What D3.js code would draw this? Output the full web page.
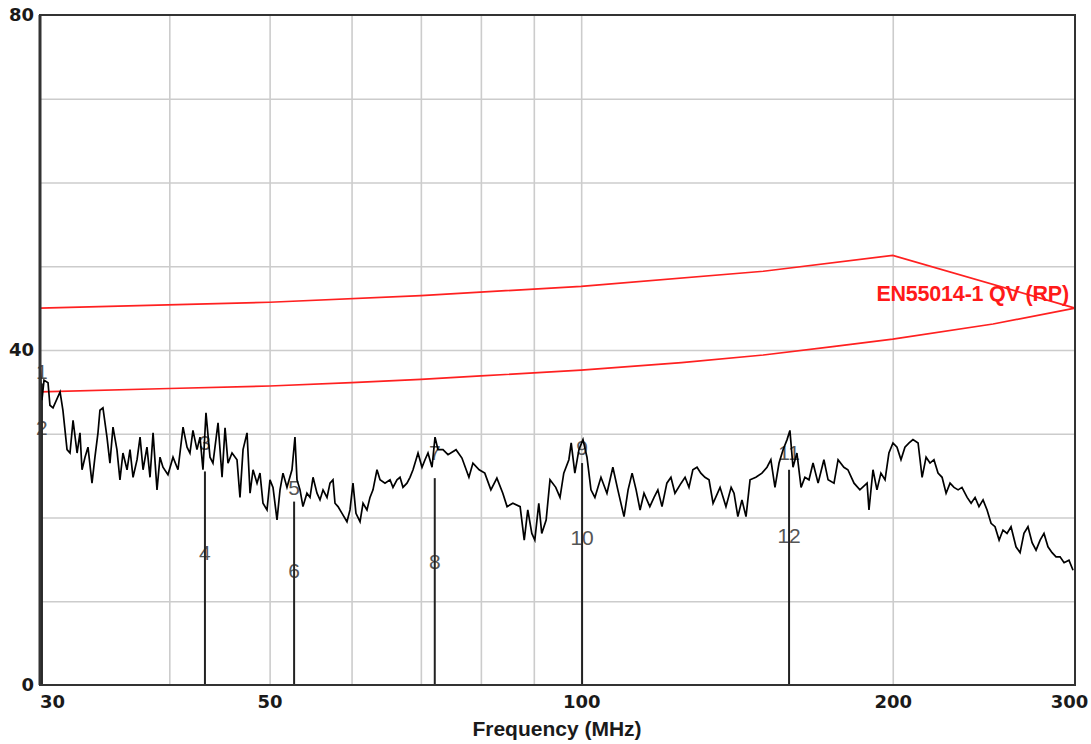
<!DOCTYPE html>
<html>
<head>
<meta charset="utf-8">
<script src="https://d3js.org/d3.v7.min.js"></script>
<style>
    body { margin: 0; background: #ffffff; }
    text { font-family: "Liberation Sans", Arial, sans-serif; }
    .grid line { stroke: #cccccc; stroke-width: 1.6px; }
    .grid path { stroke-width: 0; }
    .axis path, .axis line { stroke: none; }
    .axis text { font-family: "DejaVu Sans", Verdana, sans-serif; font-size: 18px; font-weight: bold; fill: #1a1a1a; }
    text.marker-label { font-size: 21px; fill: #555555; }
    text.axis-title { font-size: 21px; font-weight: bold; fill: #1a1a1a; }
    text.limit-label { font-size: 21.5px; font-weight: bold; fill: #ff1a1a; letter-spacing: -0.2px; }
</style>
</head>
<body>
<div id="container"></div>
<script>
    const traceFreq = [
        30.00, 30.13, 30.27, 30.54, 30.67, 30.88, 31.37, 31.57, 31.86, 32.07,
        32.29, 32.58, 32.79, 32.94, 33.16, 33.38, 33.68, 33.90, 34.13, 34.28,
        34.51, 34.82, 35.05, 35.29, 35.60, 35.84, 36.08, 36.41, 36.65, 36.90,
        37.23, 37.48, 37.73, 38.06, 38.32, 38.58, 38.92, 39.18, 39.44, 39.88,
        40.33, 40.78, 41.24, 41.61, 41.88, 42.16, 42.54, 42.83, 43.11, 43.40,
        43.79, 44.08, 44.58, 44.98, 45.28, 45.58, 45.99, 46.50, 46.81, 47.13,
        47.55, 47.87, 48.19, 48.62, 48.94, 49.27, 49.71, 50.04, 50.38, 50.83,
        51.17, 51.51, 51.97, 52.55, 52.90, 53.14, 53.50, 53.85, 54.33, 54.70,
        55.07, 55.56, 55.93, 56.31, 56.81, 57.19, 57.57, 57.83, 58.22, 58.74,
        59.39, 59.79, 60.19, 60.59, 61.14, 61.55, 62.09, 62.51, 62.93, 63.49,
        63.92, 64.63, 65.36, 65.79, 66.38, 66.83, 67.27, 67.87, 68.33, 68.79,
        69.56, 70.18, 70.65, 71.12, 71.76, 72.24, 72.72, 73.53, 74.36, 75.7,
        76.7, 77.9, 78.6, 79.7, 80.7, 81.8, 82.9, 84.0, 84.8, 85.9,
        87.3, 88.1, 88.8, 89.6, 90.2, 91.0, 91.6, 92.5, 93.3, 94.5,
        95.4, 96.2, 97.3, 97.8, 98.6, 99.5, 100.4, 101.3, 102.2, 103.1,
        104.5, 105.9, 107.3, 108.5, 110.0, 111.0, 112.0, 113.0, 114.0, 115.0,
        116.5, 117.6, 118.6, 119.7, 121.0, 122.1, 123.2, 124.9, 126.0, 127.1,
        128.2, 129.4, 130.5, 131.7, 132.9, 134.1, 136.2, 138.0, 139.6, 140.5,
        141.7, 143.0, 144.3, 145.6, 147.5, 149.5, 151.2, 152.5, 153.9, 155.3,
        156.7, 158.1, 159.1, 160.2, 161.6, 163.1, 164.5, 166.0, 167.5, 169.4,
        171.6, 173.2, 175.5, 177.1, 179.4, 181.0, 183.5, 185.9, 188.9, 189.7,
        191.4, 193.1, 194.8, 196.6, 198.3, 200.1, 201.9, 203.7, 205.5, 207.4,
        209.2, 211.6, 213.5, 215.4, 217.3, 219.2, 221.2, 223.2, 225.2, 227.2,
        229.2, 231.3, 233.3, 236.0, 238.1, 240.2, 242.3, 244.5, 246.7, 248.9,
        251.1, 253.4, 255.6, 257.9, 260.2, 263.1, 265.5, 267.8, 270.2, 272.7,
        275.1, 277.6, 280.0, 282.5, 285.1, 287.6, 290.2, 292.8, 296.0, 298.7
    ];
    const traceLevel = [
        38.2, 34.0, 36.4, 36.1, 33.4, 33.1, 35.0, 32.8, 28.1, 27.7,
        31.6, 27.7, 30.1, 25.7, 27.2, 28.4, 24.1, 27.2, 30.1, 32.8,
        33.1, 29.6, 26.5, 30.8, 28.1, 24.5, 27.7, 25.7, 28.1, 24.8,
        26.9, 29.6, 25.7, 28.4, 24.8, 30.1, 23.3, 27.2, 26.0, 25.1,
        27.2, 25.7, 30.8, 28.4, 27.7, 30.4, 28.1, 29.6, 25.7, 32.5,
        27.2, 26.5, 31.3, 24.8, 30.7, 26.5, 27.7, 26.9, 22.4, 28.1,
        30.1, 22.9, 25.7, 24.1, 25.3, 21.7, 20.9, 24.5, 23.6, 19.7,
        23.3, 25.3, 23.6, 25.7, 29.6, 24.5, 23.3, 21.3, 22.9, 22.4,
        24.8, 22.9, 22.1, 23.3, 22.4, 24.1, 24.5, 21.7, 21.3, 20.5,
        19.5, 20.9, 24.1, 20.5, 19.5, 21.7, 20.9, 22.4, 23.3, 25.7,
        24.5, 24.1, 24.5, 23.6, 24.5, 24.8, 23.6, 24.1, 24.8, 25.7,
        27.7, 26.0, 26.9, 27.7, 26.0, 29.6, 28.1, 28.1, 27.5, 28.1,
        27.1, 24.8, 26.5, 25.7, 25.3, 23.3, 24.7, 22.9, 21.3, 21.7,
        21.3, 17.3, 20.9, 18.1, 17.3, 21.7, 18.1, 19.7, 24.5, 23.6,
        22.4, 25.3, 26.9, 28.9, 25.3, 28.1, 29.3, 27.2, 23.3, 22.4,
        24.8, 22.9, 26.0, 23.3, 20.1, 23.3, 25.3, 23.3, 20.9, 22.9,
        21.3, 22.4, 23.3, 21.3, 24.1, 24.8, 22.9, 24.1, 24.8, 23.6,
        25.7, 26.0, 25.3, 24.8, 24.5, 21.7, 23.6, 21.3, 23.6, 22.9,
        20.1, 22.1, 20.1, 24.5, 24.8, 25.3, 26.0, 26.9, 23.6, 26.5,
        28.1, 29.3, 30.4, 26.0, 27.7, 23.6, 24.8, 24.5, 26.5, 24.1,
        26.9, 24.5, 24.1, 26.9, 26.0, 25.7, 24.1, 23.3, 24.1, 20.9,
        25.7, 23.3, 25.3, 24.5, 27.7, 28.9, 28.4, 26.9, 28.4, 28.9,
        29.3, 28.9, 24.8, 27.2, 26.5, 26.9, 25.3, 24.8, 22.9, 24.1,
        23.6, 23.3, 23.6, 22.4, 21.7, 22.4, 21.3, 22.1, 20.9, 19.3,
        18.9, 17.3, 18.5, 18.1, 18.9, 16.5, 15.8, 18.1, 18.9, 17.0,
        16.1, 17.3, 18.1, 16.5, 15.8, 15.3, 15.3, 14.6, 14.9, 13.7
    ];

    // limit lines (red)
    const upperFreq = [30, 50, 70, 100, 150, 200, 300];
    const upperLevel = [45.0, 45.7, 46.5, 47.6, 49.4, 51.3, 45.0];
    const lowerFreq = [30, 40, 50, 60, 70, 80, 100, 125, 150, 175, 200, 250, 300];
    const lowerLevel = [35.0, 35.4, 35.7, 36.1, 36.5, 36.9, 37.6, 38.5, 39.4, 40.4, 41.3, 43.1, 45.0];
    const limitName = "EN55014-1 QV (RP)";

    // markers: frequency, top of marker line, label numbers and their levels
    const markerFreq = [30.13, 43.3, 52.8, 72.2, 100.2, 158.8];
    const markerTop = [36.0, 25.5, 21.9, 24.7, 26.5, 25.7];
    const markerUpperLabel = ["1", "3", "5", "7", "9", "11"];
    const markerUpperLevel = [37.4, 28.9, 23.6, 27.8, 28.4, 27.8];
    const markerLowerLabel = ["2", "4", "6", "8", "10", "12"];
    const markerLowerLevel = [30.7, 15.8, 13.7, 14.7, 17.6, 17.8];

    // axis ticks
    const xTickLabels = [30, 50, 100, 200, 300];
    const xGridValues = [40, 50, 60, 70, 80, 90, 100, 200];
    const yTickLabels = [0, 40, 80];
    const yGridValues = [10, 20, 30, 40, 50, 60, 70];

    const margin = {top: 15, right: 16, bottom: 59, left: 40};
    const width = 1091 - margin.left - margin.right;
    const height = 744 - margin.top - margin.bottom;

    const svg = d3.select("#container")
        .append("svg")
        .attr("width", 1091)
        .attr("height", 744)
        .append("g")
        .attr("transform", "translate(" + margin.left + "," + margin.top + ")");

    const x = d3.scaleLog().domain([30, 300]).range([0, width]);
    const y = d3.scaleLinear().domain([0, 80]).range([height, 0]);

    // grid
    svg.append("g")
        .attr("class", "grid")
        .attr("transform", "translate(0," + height + ")")
        .call(d3.axisBottom(x).tickValues(xGridValues).tickSize(-height).tickFormat(""));
    svg.append("g")
        .attr("class", "grid")
        .call(d3.axisLeft(y).tickValues(yGridValues).tickSize(-width).tickFormat(""));

    // marker labels (behind lines and trace)
    markerFreq.forEach((f, i) => {
        svg.append("text")
            .attr("class", "marker-label")
            .attr("x", x(f))
            .attr("y", y(markerUpperLevel[i]))
            .attr("dy", "0.35em")
            .attr("text-anchor", "middle")
            .text(markerUpperLabel[i]);
        svg.append("text")
            .attr("class", "marker-label")
            .attr("x", x(f))
            .attr("y", y(markerLowerLevel[i]))
            .attr("dy", "0.35em")
            .attr("text-anchor", "middle")
            .text(markerLowerLabel[i]);
    });

    // marker lines
    svg.selectAll(".marker")
        .data(markerFreq)
        .enter()
        .append("line")
        .attr("class", "marker")
        .attr("x1", d => x(d))
        .attr("x2", d => x(d))
        .attr("y1", y(0))
        .attr("y2", (d, i) => y(markerTop[i]))
        .attr("stroke", "#222222")
        .attr("stroke-width", 2);

    // limit lines
    const line = d3.line().x(d => x(d[0])).y(d => y(d[1]));
    const upper = upperFreq.map((f, i) => [f, upperLevel[i]]);
    const lower = lowerFreq.map((f, i) => [f, lowerLevel[i]]);
    [upper, lower].forEach(pts => {
        svg.append("path")
            .datum(pts)
            .attr("fill", "none")
            .attr("stroke", "#ff2020")
            .attr("stroke-width", 1.7)
            .attr("d", line);
    });

    svg.append("text")
        .attr("class", "limit-label")
        .attr("x", x(296))
        .attr("y", y(46.7))
        .attr("dy", "0.35em")
        .attr("text-anchor", "end")
        .text(limitName);

    // measured trace
    const trace = traceFreq.map((f, i) => [f, traceLevel[i]]);
    svg.append("path")
        .datum(trace)
        .attr("fill", "none")
        .attr("stroke", "#000000")
        .attr("stroke-width", 1.7)
        .attr("d", line);

    // frame
    svg.append("rect")
        .attr("x", 0)
        .attr("y", 0)
        .attr("width", width)
        .attr("height", height)
        .attr("fill", "none")
        .attr("stroke", "#333333")
        .attr("stroke-width", 2);
    svg.append("line")
        .attr("x1", 0).attr("x2", 0)
        .attr("y1", 0).attr("y2", height)
        .attr("stroke", "#333333")
        .attr("stroke-width", 3);

    // axes labels
    const xAxis = svg.append("g")
        .attr("class", "axis")
        .attr("transform", "translate(0," + height + ")")
        .call(d3.axisBottom(x).tickValues(xTickLabels).tickFormat(d3.format("d")).tickSize(0).tickPadding(10));
    xAxis.selectAll(".tick text")
        .attr("dx", d => d === 30 ? 12 : (d === 300 ? -6 : 0));

    svg.append("g")
        .attr("class", "axis")
        .call(d3.axisLeft(y).tickValues(yTickLabels).tickSize(0).tickPadding(6));

    svg.append("text")
        .attr("class", "axis-title")
        .attr("x", 557 - margin.left)
        .attr("y", height + 51)
        .attr("text-anchor", "middle")
        .text("Frequency (MHz)");
</script>
</body>
</html>
